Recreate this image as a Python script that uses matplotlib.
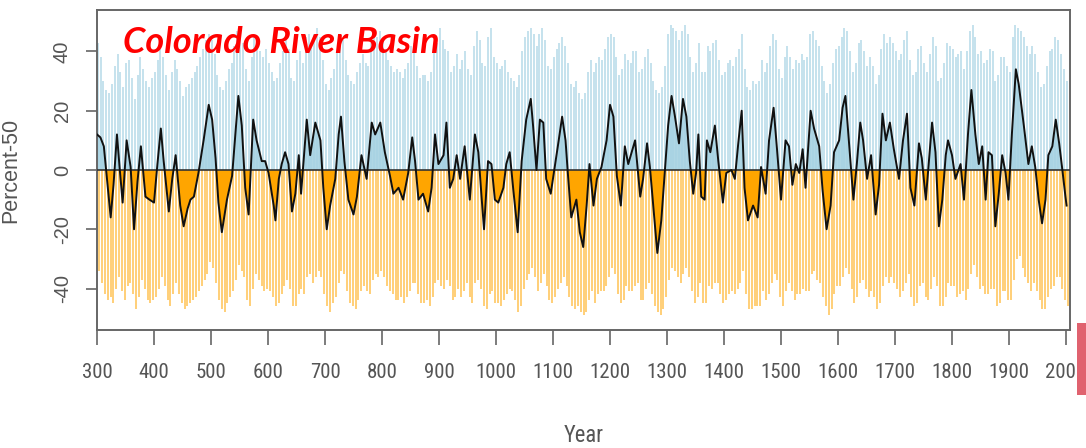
import numpy as np
import matplotlib
matplotlib.use("Agg")
import matplotlib.pyplot as plt
from matplotlib.patches import Rectangle

# ---------------- data ----------------
# 5-year blocks: tallest wet (positive) and driest (negative) annual value in each block
block_start = list(range(300, 2001, 5))

wet_peak = (
    [43,38,30,27,26,29,35,39,33,28,36,37,31,24,32,38,34,30,28,31] +      # 300s
    [33,37,41,38,32,27,33,37,34,30,25,28,29,31,33,35,38,41,44,46] +      # 400s
    [44,39,32,28,27,30,34,36,42,47,46,43,34,30,38,45,42,40,38,41] +      # 500s
    [36,33,30,31,36,40,44,41,31,30,37,40,36,45,46,42,46,48,45,37] +      # 600s
    [29,27,31,34,40,45,44,37,32,30,29,33,36,39,36,35,43,46,45,47] +      # 700s
    [44,41,37,35,33,34,33,31,34,36,42,43,35,31,32,32,30,33,40,43] +      # 800s
    [48,44,41,40,33,35,39,34,37,40,34,32,42,47,44,36,35,45,48,38] +      # 900s
    [36,34,35,37,33,31,30,28,32,40,45,47,48,46,42,46,48,44,35,34] +      # 1000s
    [38,41,43,45,42,36,29,28,30,26,24,26,33,37,33,36,38,37,41,45] +      # 1100s
    [46,45,38,32,34,39,37,36,40,40,33,34,38,41,36,30,27,26,28,35] +      # 1200s
    [46,49,48,47,44,47,49,46,38,33,36,43,33,33,42,40,43,44,37,32] +      # 1300s
    [33,36,37,35,38,41,46,34,28,27,30,29,30,37,33,36,42,46,44,34] +      # 1400s
    [31,38,42,38,34,37,36,39,37,38,46,47,44,42,35,30,26,29,36,41] +      # 1500s
    [42,45,48,47,40,33,36,43,44,40,35,38,35,29,32,41,46,43,45,43] +      # 1600s
    [40,37,39,44,47,37,32,33,41,42,36,33,39,45,42,30,31,36,43,42] +      # 1700s
    [41,38,39,40,34,40,47,49,45,39,40,36,37,41,40,30,32,38,38,35] +      # 1800s
    [33,45,49,48,47,45,42,39,42,39,33,28,29,35,40,41,45,44,39,34,30]     # 1900s + 2000
)

dry_peak = (
    [-34,-38,-42,-44,-43,-45,-40,-36,-41,-44,-39,-38,-42,-47,-43,-37,-40,-44,-45,-44] +
    [-43,-40,-36,-39,-44,-46,-42,-38,-42,-45,-47,-46,-45,-44,-43,-41,-39,-37,-35,-31] +
    [-33,-38,-44,-47,-48,-45,-43,-41,-37,-32,-34,-36,-44,-46,-40,-35,-37,-39,-41,-40] +
    [-41,-43,-46,-45,-42,-39,-37,-40,-46,-46,-42,-40,-42,-36,-35,-38,-36,-34,-36,-42] +
    [-46,-48,-45,-43,-38,-34,-35,-41,-45,-46,-47,-44,-41,-39,-41,-42,-37,-35,-36,-34] +
    [-36,-39,-41,-42,-44,-44,-43,-45,-43,-41,-38,-38,-42,-45,-45,-44,-46,-43,-38,-37] +
    [-39,-40,-37,-39,-44,-43,-40,-43,-41,-38,-43,-45,-38,-37,-40,-46,-47,-42,-41,-45] +
    [-45,-46,-44,-42,-40,-41,-44,-48,-46,-40,-37,-35,-33,-36,-41,-38,-35,-39,-44,-45] +
    [-43,-40,-38,-36,-39,-43,-46,-47,-46,-48,-49,-48,-44,-41,-45,-42,-41,-41,-39,-36] +
    [-33,-35,-42,-45,-44,-39,-41,-41,-39,-38,-44,-44,-40,-38,-42,-46,-48,-49,-47,-43] +
    [-37,-33,-34,-36,-38,-35,-33,-36,-41,-45,-43,-38,-45,-45,-39,-40,-38,-38,-42,-45] +
    [-44,-42,-41,-42,-40,-38,-34,-42,-47,-47,-46,-46,-46,-41,-44,-42,-38,-35,-37,-43] +
    [-46,-41,-38,-41,-44,-42,-42,-40,-41,-41,-35,-34,-37,-38,-43,-46,-49,-47,-42,-39] +
    [-39,-36,-33,-35,-40,-45,-43,-38,-37,-40,-43,-41,-43,-47,-45,-39,-36,-38,-36,-38] +
    [-40,-43,-41,-38,-35,-43,-46,-45,-39,-38,-43,-44,-40,-36,-39,-46,-46,-43,-38,-39] +
    [-39,-43,-42,-41,-44,-40,-35,-32,-36,-40,-39,-42,-42,-40,-40,-46,-45,-41,-41,-44] +
    [-44,-37,-30,-29,-33,-36,-38,-41,-38,-41,-44,-47,-47,-43,-40,-39,-36,-36,-40,-44,-46]
)

# smoothed series (black line)
smooth_year = [300,306,312,318,324,329,335,340,345,352,359,365,371,377,385,392,400,406,412,417,426,432,438,446,452,459,464,470,478,487,496,502,508,513,519,528,537,548,554,560,566,574,580,589,
               595,601,610,613,619,624,630,636,642,648,654,658,668,674,683,692,697,703,709,718,724,728,734,741,750,756,764,773,782,788,797,805,814,820,829,837,846,853,858,864,872,878,
               881,887,893,899,908,913,919,925,931,937,945,954,963,969,975,979,986,992,998,1004,1013,1018,1024,1030,1038,1045,1053,1061,1065,1071,1077,1083,1088,1096,1103,1110,1116,1122,1126,1132,1141,1147,1153,1159,1164,
               1171,1177,1185,1194,1200,1206,1212,1219,1226,1232,1238,1244,1253,1258,1265,1270,1279,1283,1290,1296,1302,1308,1314,1321,1328,1334,1340,1346,1351,1355,1360,1366,1370,1376,1384,1390,1398,1404,1413,1419,1425,1431,1436,1442,1451,
               1459,1465,1473,1479,1487,1493,1500,1508,1514,1520,1526,1532,1538,1543,1552,1558,1567,1573,1580,1587,1593,1602,1608,1613,1619,1627,1633,1639,1644,1651,1658,1666,1672,1678,1684,1691,1698,1707,1714,1721,1727,1734,
               1742,1747,1754,1759,1765,1771,1777,1783,1789,1793,1800,1806,1815,1821,1828,1834,1841,1847,1853,1859,1864,1870,1876,1882,1888,1894,1899,1905,1912,1917,1926,1934,1940,1946,1952,1958,1964,1969,1976,1982,1988,1993,1999,2001]
smooth_val = [12,11,8,-4,-16,-5,12,0,-11,10,1,-20,-4,8,-9,-10,-11,2,14,3,-14,-3,5,-12,-19,-13,-10,-9,-1,10,22,17,4,-11,-21,-10,-2,25,15,-6,-15,17,10,3,
              3,-1,-12,-17,-3,2,6,2,-14,-8,5,-8,17,5,16,10,-6,-20,-12,-3,12,18,3,-10,-15,-9,5,-3,16,12,16,6,-2,-8,-6,-10,-1,11,3,-10,-8,-12,
              -14,-6,12,2,5,16,-6,-3,5,-3,8,-10,12,6,-10,-20,3,2,-10,-11,-6,2,6,-6,-21,3,17,24,15,0,17,16,-3,-8,1,10,18,10,-1,-16,-10,-21,-26,-12,2,
              -12,-3,1,10,22,18,-2,-12,8,2,6,10,-9,-3,9,1,-19,-28,-17,-1,15,25,18,9,24,18,3,-8,-1,12,-9,-10,10,6,15,3,-11,-1,0,-3,9,20,-6,-17,-12,
              -16,1,-8,10,21,7,-10,10,8,-5,2,-1,7,-6,20,14,8,-7,-20,-12,6,10,21,25,10,-10,2,16,10,-3,5,-15,-5,19,10,16,7,-3,10,19,-6,-12,
              9,4,-10,2,16,6,-19,-10,5,10,5,-3,2,-10,12,27,12,2,8,-10,6,5,-19,-8,5,-1,-10,12,34,29,15,2,8,1,-10,-18,-10,5,8,17,9,1,-9,-12]

xtick_vals = list(range(300, 2001, 100))
ytick_vals = [-40, -20, 0, 20, 40]

title_text = "Colorado River Basin"
x_label = "Year"
y_label = "Percent-50"

# ---------------- figure ----------------
W, H = 1086, 448
fig = plt.figure(figsize=(W / 100, H / 100), dpi=100)
ax = fig.add_axes([97 / W, 1 - 330 / H, (1070 - 97) / W, (330 - 10) / H])

blocks = np.array(block_start, dtype=float)
wet = np.array(wet_peak, dtype=float)
dry = np.array(dry_peak, dtype=float)

ax.vlines(blocks + 1.2, 0, wet, colors="#A9D4E4", alpha=0.7, linewidth=1.35, zorder=1)
ax.vlines(blocks + 3.7, 0, dry, colors="#FFA500", alpha=0.55, linewidth=1.35, zorder=1)

sy = np.array(smooth_year, dtype=float)
sv = np.array(smooth_val, dtype=float)
ax.fill_between(sy, sv, 0, where=sv >= 0, interpolate=True, color="#A6D2E2", alpha=0.9, linewidth=0, zorder=2)
ax.fill_between(sy, sv, 0, where=sv <= 0, interpolate=True, color="#FFA500", linewidth=0, zorder=2)
ax.axhline(0, color="#333333", linewidth=1.2, zorder=3)
ax.plot(sy, sv, color="#111111", linewidth=1.4, zorder=4)

ax.set_xlim(300, 2007)
ax.set_ylim(-54, 54)

for s in ax.spines.values():
    s.set_color("#666666")
    s.set_linewidth(1.4)

narrow = ["Roboto Condensed", "Archivo Narrow", "Liberation Sans", "DejaVu Sans"]
ax.set_xticks(xtick_vals)
ax.set_xticklabels([str(v) for v in xtick_vals], fontfamily=narrow, fontsize=17, color="#555555")
ax.set_yticks(ytick_vals)
ax.set_yticklabels([str(v) for v in ytick_vals], rotation=90, va="center",
                   fontfamily=["Liberation Sans", "DejaVu Sans"], fontsize=14.5, color="#555555")
ax.tick_params(axis="x", length=10.5, width=1.2, color="#666666", pad=13)
ax.tick_params(axis="y", length=8, width=1.2, color="#666666", pad=10)

ax.set_xlabel(x_label, fontfamily=narrow, fontsize=17, color="#555555")
ax.xaxis.label.set_va("baseline")
ax.xaxis.set_label_coords(0.5, (330 - 442) / 320)
ax.set_ylabel(y_label, fontfamily=["Liberation Sans", "DejaVu Sans"], fontsize=15.5, color="#555555")
ax.yaxis.set_label_coords(-0.078, 0.5)

title = fig.text(123 / W, 1 - 53 / H, title_text, color="#FF0000", fontsize=23,
                 fontweight="bold", fontstyle="italic", family=["Lato", "DejaVu Sans"],
                 va="baseline", ha="left")

fig.patches.append(Rectangle((1077 / W, 1 - 395 / H), 9 / W, 72 / H, transform=fig.transFigure,
                             facecolor="#E0626F", edgecolor="none", zorder=10))

# fit text widths to the reference (layout only)
fig.canvas.draw()
r = fig.canvas.get_renderer()
tw = title.get_window_extent(r).width
title.set_fontsize(23 * 317 / tw)
lbls = ax.get_xticklabels()
ref = [t for t in lbls if t.get_text() == "1000"][0]
s = 41.5 / ref.get_window_extent(r).width
for t in lbls:
    t.set_fontsize(17 * s)
ax.xaxis.label.set_fontsize(17 * 40 / ax.xaxis.label.get_window_extent(r).width)

fig.savefig("out.png", dpi=100)
